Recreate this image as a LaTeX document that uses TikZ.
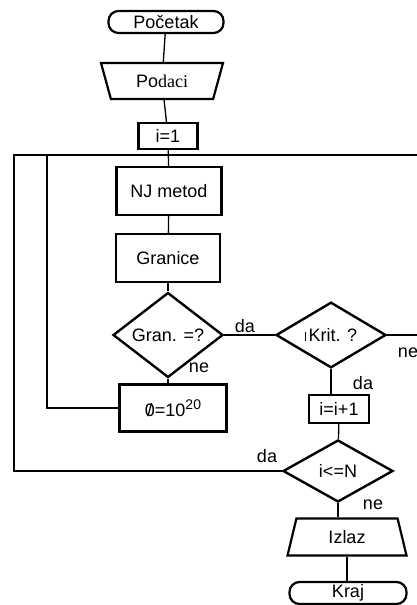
\documentclass[tikz,border=0pt]{standalone}
\usepackage{fontspec}
\setmainfont{Liberation Sans}
\newfontfamily\serifpart{Liberation Serif}
\usetikzlibrary{shapes.geometric}
\begin{document}
\begin{tikzpicture}[x=1pt,y=-1pt,
  font=\fontsize{18}{20}\selectfont,
  line width=1.3pt,
  box/.style={rectangle,draw,line width=2.2pt,inner sep=0pt},
  term/.style={rectangle,draw,rounded corners=10pt,line width=2.2pt,inner sep=0pt,minimum height=22pt},
  dec/.style={diamond,draw,line width=2.4pt,inner sep=0pt,minimum width=110pt,minimum height=63pt},
  io/.style={trapezium,draw,line width=2.2pt,inner sep=0pt,trapezium stretches body},
  lbl/.style={inner sep=0pt}]
  \useasboundingbox (0,0) rectangle (417,605);
  % nodes
  \node (start)  at (166,22)  [term,minimum width=115pt] {Početak};
  \node (podaci) at (162,81)  [io,shape border rotate=180,trapezium left angle=52,
    trapezium right angle=52,minimum width=122pt,minimum height=36pt] {Po{\serifpart daci}};
  \node (i1)     at (168,136) [box,minimum width=59pt,minimum height=26pt] {i=1};
  \node (nj)     at (169,191) [box,minimum width=105pt,minimum height=48pt] {NJ metod};
  \node (gr)     at (168,258) [box,minimum width=104pt,minimum height=48pt] {Granice};
  \node (gran)   at (168,335) [dec] {Gran. =?};
  \node (phi)    at (173,408) [box,minimum width=107pt,minimum height=47pt]
    {\ooalign{0\cr\hidewidth/\hidewidth\cr}=10\raisebox{7pt}{\fontsize{14}{14}\selectfont 20}};
  \node (krit)   at (331,335) [dec,minimum height=65pt] {\rule{0.8pt}{9pt}\,Krit. ?};
  \node (inc)    at (339,409) [box,minimum width=60pt,minimum height=28pt] {i=i+1};
  \node (cmp)    at (338,471) [dec,minimum height=62pt] {i<=N};
  \node (izlaz)  at (347,537) [io,trapezium left angle=56,trapezium right angle=56,
    minimum width=119pt,minimum height=37pt] {Izlaz};
  \node (kraj)   at (348,593) [term,minimum width=117pt] {Kraj};
  % labels
  \node (da1) at (245,326) [lbl] {da};
  \node (ne1) at (199,368) [lbl] {ne};
  \node (ne2) at (408,353) [lbl] {ne};
  \node (da2) at (363,383) [lbl] {da};
  \node (da3) at (267,456) [lbl] {da};
  \node (ne3) at (373,505) [lbl] {ne};
  % loop ends
  \coordinate (loopl) at (14,155);
  \coordinate (loopi) at (47,155);
  \coordinate (loopr) at (417,155);
  \coordinate (kritr) at (417,335);
  % connectors
  \draw (start) -- (podaci);
  \draw (podaci) -- (i1);
  \draw (i1) -- (nj);
  \draw (nj) -- (gr);
  \draw (gr) -- (gran);
  \draw (gran.south) -- (gran.south |- phi.north);
  \draw (gran.east) -- (krit.west);
  \draw (krit.east) -- (kritr);
  \draw (krit.south) -- (krit.south |- inc.north);
  \draw (inc) -- (cmp);
  \draw (cmp.south) -- (cmp.south |- izlaz.north);
  \draw (izlaz.south) -- (izlaz.south |- kraj.north);
  % loops back
  \draw (cmp.west) -| (loopl) -- (loopr);
  \draw (phi.west) -| (loopi);
\end{tikzpicture}
\end{document}
